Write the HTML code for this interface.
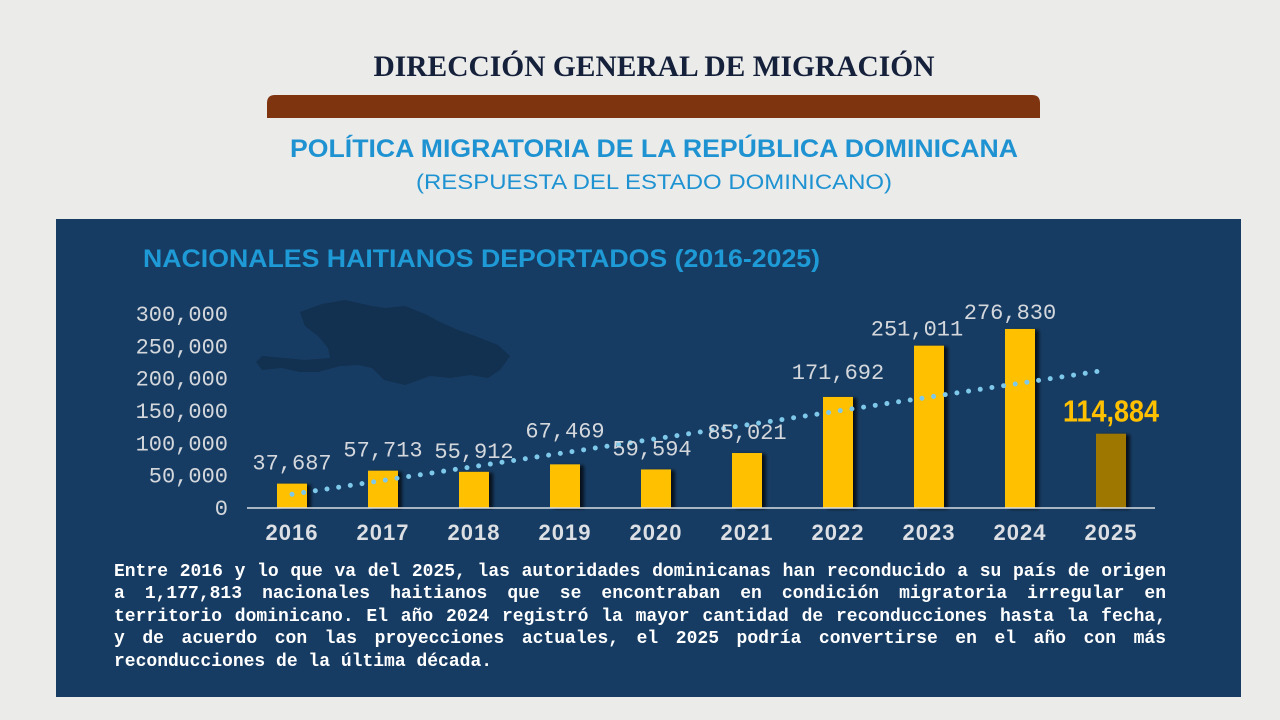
<!DOCTYPE html>
<html><head><meta charset="utf-8"><style>
html,body{margin:0;padding:0;}
body{width:1280px;height:720px;overflow:hidden;background:#ebebea;position:relative;font-family:"Liberation Sans",sans-serif;}
.body-text{position:absolute;left:114px;top:561px;width:1052px;font-family:"Liberation Mono",monospace;font-weight:bold;font-size:18px;line-height:22.4px;color:#fff;}
.body-text div{text-align:justify;text-align-last:justify;white-space:nowrap;}
.body-text div.last{text-align-last:left;}
</style></head><body>
<svg width="1280" height="720" style="position:absolute;left:0;top:0">
  <defs><filter id="sh" x="-20%" y="-5%" width="160%" height="110%"><feDropShadow dx="4" dy="1" stdDeviation="1.5" flood-color="#000" flood-opacity="0.7"/></filter></defs>
  <text x="654" y="76" text-anchor="middle" font-family="Liberation Serif, serif" font-weight="bold" font-size="30" fill="#15213b" textLength="561" lengthAdjust="spacingAndGlyphs">DIRECCIÓN GENERAL DE MIGRACIÓN</text>
  <path d="M267,118 L267,103 Q267,95 275,95 L1032,95 Q1040,95 1040,103 L1040,118 Z" fill="#7f3410"/>
  <text x="654" y="157" text-anchor="middle" font-weight="bold" font-size="25" fill="#1f93d2" textLength="728" lengthAdjust="spacingAndGlyphs">POLÍTICA MIGRATORIA DE LA REPÚBLICA DOMINICANA</text>
  <text x="654" y="189" text-anchor="middle" font-size="21" fill="#1f93d2" textLength="476" lengthAdjust="spacingAndGlyphs">(RESPUESTA DEL ESTADO DOMINICANO)</text>
  <rect x="56" y="219" width="1185" height="478" fill="#173c63"/>
  <text x="143" y="267" font-weight="bold" font-size="25" fill="#1e9ad6" textLength="677" lengthAdjust="spacingAndGlyphs">NACIONALES HAITIANOS DEPORTADOS (2016-2025)</text>
  <path fill="#12304f" d="M300,312 L322,304 L345,300 L372,306 L385,308 L405,306 L425,314 L440,322 L458,330 L475,336 L498,345 L510,356 L500,370 L488,378 L470,375 L450,378 L430,376 L405,385 L384,380 L372,368 L358,365 L340,366 L318,372 L300,372 L282,368 L262,370 L256,362 L262,356 L285,358 L305,360 L330,358 L328,348 L318,336 L305,326 Z"/>
  <g id="chart"></g>
</svg>
<div class="body-text">
<div>Entre 2016 y lo que va del 2025, las autoridades dominicanas han reconducido a su país de origen</div>
<div>a 1,177,813 nacionales haitianos que se encontraban en condición migratoria irregular en</div>
<div>territorio dominicano. El año 2024 registró la mayor cantidad de reconducciones hasta la fecha,</div>
<div>y de acuerdo con las proyecciones actuales, el 2025 podría convertirse en el año con más</div>
<div class="last">reconducciones de la última década.</div>
</div>
<script>
const years = ["2016","2017","2018","2019","2020","2021","2022","2023","2024","2025"];
const values = [37687,57713,55912,67469,59594,85021,171692,251011,276830,114884];
const valueLabels = ["37,687","57,713","55,912","67,469","59,594","85,021","171,692","251,011","276,830","114,884"];
const yTicks = [0,50000,100000,150000,200000,250000,300000];
const yTickLabels = ["0","50,000","100,000","150,000","200,000","250,000","300,000"];

const NS = "http://www.w3.org/2000/svg";
const g = document.getElementById("chart");
const baseY = 508, topY = 314, maxV = 300000;
const y = v => baseY - v / maxV * (baseY - topY);
const x = i => 292 + i * 91;
function mk(tag, attrs, parent) { const e = document.createElementNS(NS, tag); for (const k in attrs) e.setAttribute(k, attrs[k]); (parent || g).appendChild(e); return e; }

yTicks.forEach((t, i) => {
  const e = mk("text", {x: 228, y: y(t) + 7, "text-anchor": "end", "font-family": "Liberation Mono, monospace", "font-size": "22", fill: "#d4d8dd"});
  
  
  e.textContent = yTickLabels[i];
});

values.forEach((v, i) => {
  const last = i === values.length - 1;
  const b = mk("rect", {x: x(i) - 15, y: y(v), width: 30, height: baseY - y(v), fill: last ? "#9e7700" : "#ffc000", filter: "url(#sh)"});
  
  
  const yl = mk("text", {x: x(i), y: 540, "text-anchor": "middle", "font-weight": "bold", "font-size": "22", "letter-spacing": "1", fill: "#dcdfe3"});
  
  
  yl.textContent = years[i];
});

const axis = mk("line", {x1: 247, x2: 1155, y1: baseY, y2: baseY, stroke: "#d8dde3", "stroke-width": 1.5});



const n = values.length;
const mx = (n - 1) / 2, my = values.reduce((a, b) => a + b, 0) / n;
let sxy = 0, sxx = 0;
values.forEach((v, i) => { sxy += (i - mx) * (v - my); sxx += (i - mx) * (i - mx); });
const slope = sxy / sxx, icpt = my - slope * mx;
const tEnd = n - 1 - 0.13;
const tl = mk("line", {x1: x(0), y1: y(icpt), x2: x(0) + tEnd * 91, y2: y(icpt + slope * tEnd), stroke: "#7ec8ea", "stroke-width": 5, "stroke-linecap": "round", "stroke-dasharray": "0 11.8"});



const offs = [[0,-14],[0,-14],[0,-14],[0,-27],[-4,-14],[0,-14],[0,-18],[-12,-10],[-10,-10]];
values.forEach((v, i) => {
  const last = i === values.length - 1;
  let t;
  if (last) {
    t = mk("text", {x: x(i), y: y(v) - 12, "text-anchor": "middle", "font-family": "Liberation Sans Narrow, Liberation Sans, sans-serif", "font-weight": "bold", "font-size": "31", fill: "#ffc000", textLength: 96, lengthAdjust: "spacingAndGlyphs"});
  } else {
    t = mk("text", {x: x(i) + offs[i][0], y: y(v) + offs[i][1], "text-anchor": "middle", "font-family": "Liberation Mono, monospace", "font-size": "22", fill: "#d4d8dd"});
  }
  
  
  t.textContent = valueLabels[i];
});
</script>
</body></html>
